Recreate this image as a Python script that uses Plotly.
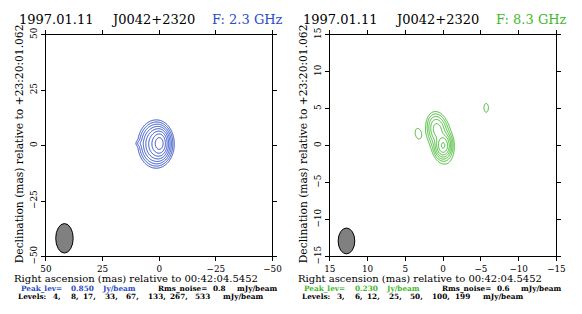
import numpy as np
import plotly.graph_objects as go

W, H = 582, 314

# ---------------- data ----------------
date = "1997.01.11"
source = "J0042+2320"
freqs = ["F: 2.3 GHz", "F: 8.3 GHz"]
colors = ["#2a4bc6", "#3fb82a"]
peak_lev = ["0.850", "0.230"]
rms_noise = ["0.8", "0.6"]
levels_left = [4, 8, 17, 33, 67, 133, 267, 533]
levels_right = [3, 6, 12, 25, 50, 100, 199]
ticks_left = [50, 25, 0, -25, -50]
ticks_right = [15, 10, 5, 0, -5, -10, -15]
ra_ref = "00:42:04.5452"
dec_ref = "+23:20:01.062"

# Brightness model components read from the maps
# (x mas, y mas, peak mJy/beam, sigma_x mas, sigma_y mas, tilt deg)
left_cx = [-0.3, 1.2, 1.8, 8.5]
left_cy = [1.0, 0.6, 0.8, 1.0]
left_peak = [580, 240, 40, 6]
left_sx = [1.6, 2.6, 3.3, 1.2]
left_sy = [2.6, 3.6, 4.3, 0.8]
left_tilt = [0, 0, 0, 0]

right_cx = [0.0, 0.8, 0.3, 3.3, -5.7]
right_cy = [0.0, 2.2, 0.8, 1.6, 5.1]
right_peak = [205, 60, 20, 4.0, 3.7]
right_sx = [0.45, 0.55, 0.8, 0.55, 0.5]
right_sy = [0.7, 0.9, 1.7, 1.0, 1.0]
right_tilt = [0, 10, 12, 10, 0]

# restoring beam (center x, center y, width, height) in mas
beam_left = [41.8, -41.8, 7.7, 13.3]
beam_right = [12.8, -12.9, 2.2, 3.5]


def field(half, n, cx, cy, pk, sx, sy, tilt):
    g = np.linspace(-half, half, n)
    X, Y = np.meshgrid(g, g)
    Z = np.zeros_like(X)
    for a, b, p, s1, s2, t in zip(cx, cy, pk, sx, sy, tilt):
        th = np.radians(t)
        dx, dy = X - a, Y - b
        u = dx * np.cos(th) - dy * np.sin(th)
        v = dx * np.sin(th) + dy * np.cos(th)
        Z += p * np.exp(-0.5 * ((u / s1) ** 2 + (v / s2) ** 2))
    return g, np.log2(np.maximum(Z, 1e-6))


gl, zl = field(50, 401, left_cx, left_cy, left_peak, left_sx, left_sy, left_tilt)
gr, zr = field(15, 401, right_cx, right_cy, right_peak, right_sx, right_sy, right_tilt)

fig = go.Figure()


def add_contour(g, z, levels, color, xa, ya):
    base = np.log2(levels[-1]) - (len(levels) - 1)
    fig.add_trace(go.Contour(
        x=g, y=g, z=z, xaxis=xa, yaxis=ya,
        contours=dict(coloring="none", start=base, end=np.log2(levels[-1]) + 0.01, size=1),
        line=dict(color=color, width=1), showscale=False, hoverinfo="skip"))


add_contour(gl, zl, levels_left, colors[0], "x", "y")
add_contour(gr, zr, levels_right, colors[1], "x2", "y2")

# panel geometry in pixels
px_l = (41, 274)
px_r = (333, 566)
py = (29, 262)
ydom = [1 - py[1] / H, 1 - py[0] / H]

font_tick = dict(family="DejaVu Serif", size=8.8, color="black")
axis_common = dict(showgrid=False, zeroline=False, showline=True, linecolor="black", linewidth=1,
                   mirror="ticks", ticks="outside", ticklen=4, tickcolor="black", tickwidth=1,
                   tickfont=font_tick)

fig.update_layout(
    width=W, height=H, margin=dict(l=0, r=0, t=0, b=0),
    paper_bgcolor="white", plot_bgcolor="white", showlegend=False,
    xaxis=dict(domain=[px_l[0] / W, px_l[1] / W], range=[50, -50], tickvals=ticks_left,
               anchor="y", **axis_common),
    yaxis=dict(domain=ydom, range=[-50, 50], tickvals=ticks_left, tickangle=-90,
               anchor="x", **axis_common),
    xaxis2=dict(domain=[px_r[0] / W, px_r[1] / W], range=[15, -15], tickvals=ticks_right,
                anchor="y2", **axis_common),
    yaxis2=dict(domain=ydom, range=[-15, 15], tickvals=ticks_right, tickangle=-90,
                anchor="x2", **axis_common),
)

shapes = []
for b, xr, yr in [(beam_left, "x", "y"), (beam_right, "x2", "y2")]:
    shapes.append(dict(type="circle", xref=xr, yref=yr,
                       x0=b[0] - b[2] / 2, x1=b[0] + b[2] / 2,
                       y0=b[1] - b[3] / 2, y1=b[1] + b[3] / 2,
                       fillcolor="#808080", line=dict(color="black", width=1)))
fig.update_layout(shapes=shapes)

ann = []


def txt(x, y, text, size, color="black", xanchor="left", angle=0, family="DejaVu Serif"):
    ann.append(dict(x=x / W, y=1 - y / H, xref="paper", yref="paper", text=text, showarrow=False,
                    xanchor=xanchor, yanchor="middle", textangle=angle, borderpad=0,
                    font=dict(family=family, size=size, color=color)))


# centre x (px) of each token in the two info rows of each panel
row1_x = [[36, 78.5, 116, 182, 220, 259], [328, 370.5, 408, 474, 512, 551]]
row2_x = [[27, 52, 71, 86, 108, 130, 155, 178, 202, 244.5],
          [319, 344, 363, 378, 400, 422, 447, 469, 511.5]]

for i, off in enumerate([0, 292]):
    txt(off + 12, 13, date, 13)
    txt(off + 107, 13, source, 13)
    txt(off + 211, 13, freqs[i], 13, color=colors[i])
    txt(off + 7, 285.1, "Right ascension (mas) relative to " + ra_ref, 10)
    txt(off + 14, 143.5, "Declination (mas) relative to " + dec_ref, 10.7, xanchor="center", angle=-90)
    r1 = ["Peak_lev=", peak_lev[i], "Jy/beam", "Rms_noise=", rms_noise[i], "mJy/beam"]
    for k, (xx, t) in enumerate(zip(row1_x[i], r1)):
        txt(xx, 295.4, "<b>" + t + "</b>", 7.3, color=colors[i] if k < 3 else "black", xanchor="center")
    lv = levels_left if i == 0 else levels_right
    r2 = ["Levels:"] + [str(v) + "," for v in lv[:-1]] + [str(lv[-1]), "mJy/beam"]
    for xx, t in zip(row2_x[i], r2):
        txt(xx, 304, "<b>" + t + "</b>", 7.3, xanchor="center")

fig.update_layout(annotations=ann)
fig.write_html("out.html", post_script="document.body.style.margin='0';",
               config={"displayModeBar": False})
